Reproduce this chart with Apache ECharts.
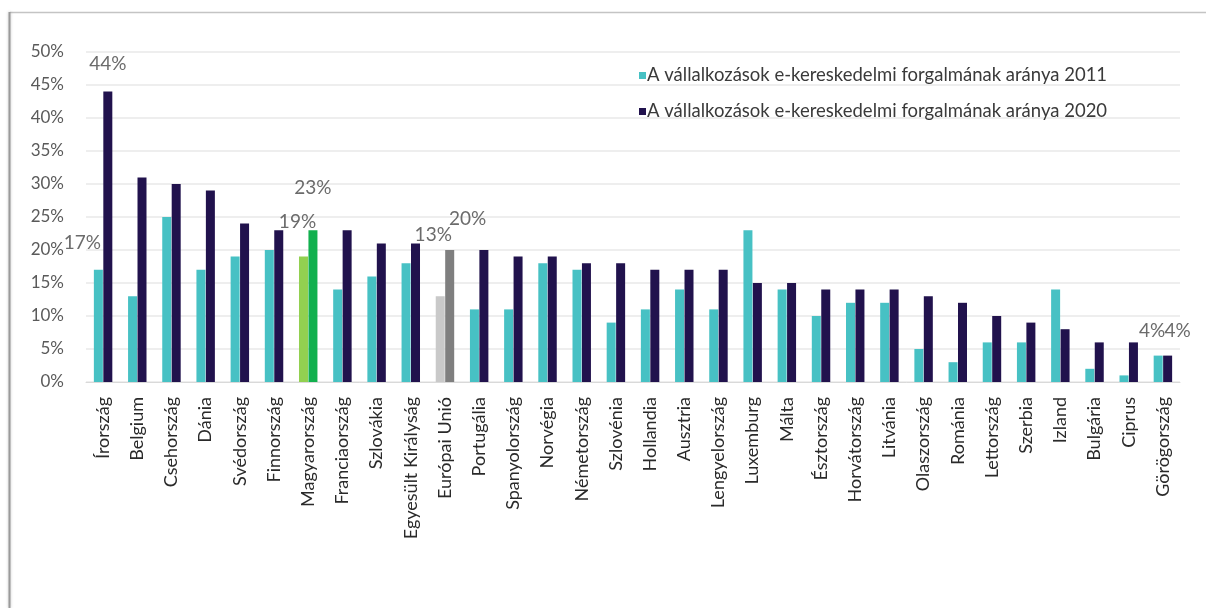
<!DOCTYPE html>
<html>
<head>
<meta charset="utf-8">
<script src="https://cdn.jsdelivr.net/npm/echarts@6/dist/echarts.min.js"></script>
<style>
  html, body { margin: 0; padding: 0; background: #ffffff; }
  #chart { width: 1206px; height: 608px; }
</style>
</head>
<body>
<div id="chart"></div>
<script>
// Országok / régiók
const categories = [
  'Írország', 'Belgium', 'Csehország', 'Dánia', 'Svédország', 'Finnország',
  'Magyarország', 'Franciaország', 'Szlovákia', 'Egyesült Királyság', 'Európai Unió',
  'Portugália', 'Spanyolország', 'Norvégia', 'Németország', 'Szlovénia', 'Hollandia',
  'Ausztria', 'Lengyelország', 'Luxemburg', 'Málta', 'Észtország', 'Horvátország',
  'Litvánia', 'Olaszország', 'Románia', 'Lettország', 'Szerbia', 'Izland',
  'Bulgária', 'Ciprus', 'Görögország'
];

// E-kereskedelmi forgalom aránya (%), 2011
const share2011 = [
  17, 13, 25, 17, 19, 20, 19, 14, 16, 18, 13,
  11, 11, 18, 17, 9, 11, 14, 11, 23, 14, 10, 12,
  12, 5, 3, 6, 6, 14, 2, 1, 4
];

// E-kereskedelmi forgalom aránya (%), 2020
const share2020 = [
  44, 31, 30, 29, 24, 23, 23, 23, 21, 21, 20,
  20, 19, 19, 18, 18, 17, 17, 17, 15, 15, 14, 14,
  14, 13, 12, 10, 9, 8, 6, 6, 4
];

const seriesNames = [
  'A vállalkozások e-kereskedelmi forgalmának aránya 2011',
  'A vállalkozások e-kereskedelmi forgalmának aránya 2020'
];

const yTicks = { min: 0, max: 50, step: 5 };

// Styling
const FONT = 'Lato, "Open Sans", sans-serif';
const COLOR_2011 = '#47c1c4';
const COLOR_2020 = '#21124d';

// Highlighted bars: [2011 colour, 2020 colour]
const highlight = {
  'Magyarország': ['#92d050', '#12b04e'],
  'Európai Unió': ['#c9c9c9', '#7f7f7f']
};

// Value labels shown on selected bars, with their nudges: [dx, dy]
const labels2011 = {
  'Írország': [-16, -12],
  'Magyarország': [-6, -20],
  'Európai Unió': [-7, -47],
  'Görögország': [-6, -10]
};
const labels2020 = {
  'Írország': [0, -13],
  'Magyarország': [0, -28],
  'Európai Unió': [18, -17],
  'Görögország': [10, -10]
};

function buildData(values, yearIdx, labelMap) {
  return values.map((v, i) => {
    const name = categories[i];
    const item = { value: v };
    if (highlight[name]) {
      item.itemStyle = { color: highlight[name][yearIdx] };
    }
    if (labelMap[name]) {
      item.label = {
        show: true,
        position: 'top',
        distance: 5,
        offset: labelMap[name],
        formatter: '{c}%',
        color: '#6b6b6b',
        fontFamily: FONT,
        fontSize: 19
      };
    }
    return item;
  });
}

const chart = echarts.init(document.getElementById('chart'), null, { renderer: 'canvas' });

chart.setOption({
  animation: false,
  backgroundColor: '#ffffff',
  grid: { left: 86, right: 26, top: 52, bottom: 226, containLabel: false },
  legend: {
    orient: 'vertical',
    left: 634,
    top: 61,
    itemWidth: 7,
    itemHeight: 7,
    itemGap: 17,
    icon: 'rect',
    textStyle: { fontFamily: FONT, fontSize: 18.5, color: '#3a3a3a', padding: [0, 0, 0, -4] },
    data: seriesNames
  },
  xAxis: {
    type: 'category',
    data: categories,
    axisTick: { show: false },
    axisLine: { lineStyle: { color: '#d9d9d9', width: 1 } },
    axisLabel: {
      interval: 0,
      rotate: 90,
      margin: 15,
      fontFamily: FONT,
      fontSize: 18,
      color: '#2a2a2a'
    }
  },
  yAxis: {
    type: 'value',
    min: yTicks.min,
    max: yTicks.max,
    interval: yTicks.step,
    axisLine: { show: false },
    axisTick: { show: false },
    splitLine: { lineStyle: { color: '#e9e9e9', width: 1.5 } },
    axisLabel: {
      margin: 22,
      formatter: '{value}%',
      fontFamily: FONT,
      fontSize: 17,
      color: '#5a5a5a'
    }
  },
  series: [
    {
      name: seriesNames[0],
      type: 'bar',
      barWidth: 9,
      barGap: '5%',
      itemStyle: { color: COLOR_2011 },
      data: buildData(share2011, 0, labels2011)
    },
    {
      name: seriesNames[1],
      type: 'bar',
      barWidth: 9,
      barGap: '5%',
      itemStyle: { color: COLOR_2020 },
      data: buildData(share2020, 1, labels2020)
    }
  ],
  graphic: [
    {
      type: 'line',
      shape: { x1: 10, y1: 12.5, x2: 1206, y2: 12.5 },
      style: { stroke: '#c4c4c4', lineWidth: 1.5 }
    },
    {
      type: 'line',
      shape: { x1: 9.5, y1: 12, x2: 9.5, y2: 608 },
      style: { stroke: '#9a9a9a', lineWidth: 2, shadowColor: 'rgba(0,0,0,0.25)', shadowBlur: 3 }
    }
  ]
});
</script>
</body>
</html>
